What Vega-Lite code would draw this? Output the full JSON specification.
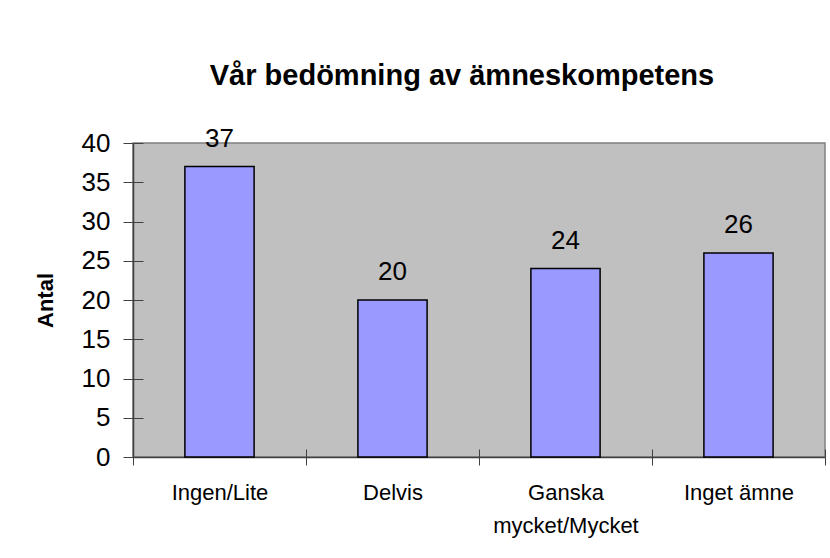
{
  "$schema": "https://vega.github.io/schema/vega-lite/v6.json",
  "width": 692,
  "height": 314,
  "autosize": "none",
  "padding": {"left": 133, "top": 143, "right": 5, "bottom": 101},
  "background": "white",
  "config": {
    "view": {"fill": "#C0C0C0", "stroke": "#808080", "strokeWidth": 1.5},
    "font": "Liberation Sans",
    "axis": {"grid": false}
  },
  "title": {
    "text": "Vår bedömning av ämneskompetens",
    "font": "Liberation Sans",
    "fontSize": 29,
    "fontWeight": "bold",
    "color": "black",
    "anchor": "middle",
    "dx": -17,
    "offset": 35
  },
  "data": {
    "values": [
      {"kategori": "Ingen/Lite", "antal": 37},
      {"kategori": "Delvis", "antal": 20},
      {"kategori": "Ganska mycket/Mycket", "antal": 24},
      {"kategori": "Inget ämne", "antal": 26}
    ]
  },
  "layer": [
    {
      "mark": {"type": "bar", "fill": "#9999FF", "stroke": "black", "strokeWidth": 1.5, "width": {"band": 0.4}},
      "encoding": {
        "x": {
          "field": "kategori", "type": "nominal", "sort": null,
          "scale": {"paddingInner": 0, "paddingOuter": 0},
          "axis": {
            "orient": "bottom", "title": null, "tickBand": "extent", "tickSize": 8,
            "tickColor": "#404040", "domainColor": "#404040", "domainWidth": 1.5,
            "labelAngle": 0, "labelFontSize": 22, "labelColor": "black",
            "labelPadding": 17, "labelLineHeight": 33, "labelBaseline": "top",
            "labelExpr": "datum.value == 'Ganska mycket/Mycket' ? ['Ganska', 'mycket/Mycket'] : datum.value"
          }
        },
        "y": {
          "field": "antal", "type": "quantitative",
          "scale": {"domain": [0, 40]},
          "axis": {
            "orient": "left", "title": "Antal", "titleFontSize": 22, "titleFontWeight": "bold",
            "titleColor": "black", "titlePadding": 24,
            "values": [0, 5, 10, 15, 20, 25, 30, 35, 40],
            "tickSize": 10, "tickColor": "#404040", "domainColor": "#404040", "domainWidth": 1.5,
            "labelFontSize": 26, "labelColor": "black", "labelPadding": 13
          }
        }
      }
    },
    {
      "mark": {"type": "text", "baseline": "alphabetic", "dy": -20, "fontSize": 26, "color": "black"},
      "encoding": {
        "x": {
          "field": "kategori", "type": "nominal", "sort": null,
          "axis": {
            "orient": "bottom", "title": null, "tickBand": "extent", "tickSize": -8,
            "tickColor": "#404040", "labels": false, "domain": false
          }
        },
        "y": {
          "field": "antal", "type": "quantitative",
          "axis": {
            "orient": "left", "title": null, "values": [0, 5, 10, 15, 20, 25, 30, 35, 40],
            "tickSize": -10, "tickColor": "#404040", "labels": false, "domain": false
          }
        },
        "text": {"field": "antal", "type": "quantitative"}
      }
    }
  ],
  "resolve": {"axis": {"x": "independent", "y": "independent"}}
}
